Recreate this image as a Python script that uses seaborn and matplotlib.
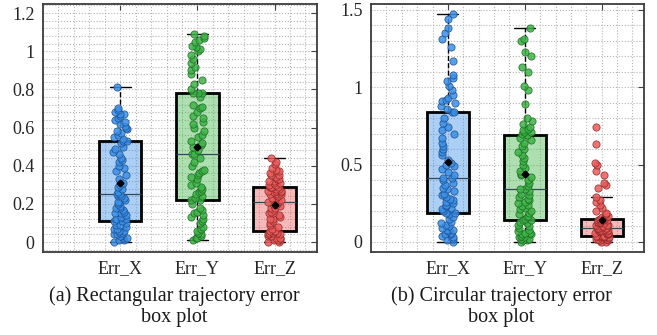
import numpy as np
import pandas as pd
import seaborn as sns

import matplotlib
matplotlib.use('Agg')
import matplotlib.pyplot as plt
from matplotlib.colors import to_rgba
from matplotlib.ticker import MultipleLocator, FuncFormatter

groups = ['Err_X', 'Err_Y', 'Err_Z']

# (a) rectangular trajectory errors
rect_x = [0.00, 0.01, 0.01, 0.02, 0.02, 0.03, 0.03, 0.04, 0.04, 0.05, 0.05, 0.06, 0.06, 0.07, 0.07, 0.08, 0.09, 0.09, 0.10, 0.11,
          0.11, 0.12, 0.12, 0.13, 0.14, 0.15, 0.15, 0.16, 0.17, 0.18, 0.18, 0.19, 0.20, 0.21, 0.21, 0.22, 0.23, 0.24, 0.24, 0.25,
          0.25, 0.26, 0.28, 0.29, 0.30, 0.31, 0.33, 0.35, 0.37, 0.39, 0.40, 0.42, 0.43, 0.44, 0.46, 0.47, 0.49, 0.50, 0.52, 0.53,
          0.53, 0.54, 0.55, 0.56, 0.57, 0.58, 0.59, 0.60, 0.61, 0.62, 0.63, 0.64, 0.65, 0.66, 0.67, 0.67, 0.68, 0.69, 0.70, 0.81]
rect_y = [0.01, 0.02, 0.02, 0.03, 0.04, 0.05, 0.06, 0.07, 0.08, 0.10, 0.11, 0.12, 0.13, 0.14, 0.15, 0.16, 0.17, 0.18, 0.20, 0.22,
          0.22, 0.23, 0.24, 0.25, 0.26, 0.27, 0.28, 0.29, 0.30, 0.31, 0.33, 0.34, 0.35, 0.36, 0.37, 0.38, 0.40, 0.42, 0.44, 0.46,
          0.46, 0.48, 0.50, 0.51, 0.52, 0.53, 0.55, 0.56, 0.58, 0.60, 0.62, 0.63, 0.65, 0.66, 0.68, 0.70, 0.71, 0.72, 0.76, 0.78,
          0.78, 0.78, 0.80, 0.83, 0.85, 0.88, 0.90, 0.92, 0.94, 0.96, 0.98, 1.00, 1.01, 1.02, 1.03, 1.05, 1.06, 1.07, 1.08, 1.09]
rect_z = [0.00, 0.00, 0.01, 0.01, 0.01, 0.02, 0.02, 0.02, 0.03, 0.03, 0.03, 0.04, 0.04, 0.04, 0.05, 0.05, 0.05, 0.06, 0.06, 0.06,
          0.06, 0.07, 0.08, 0.09, 0.10, 0.11, 0.12, 0.12, 0.13, 0.14, 0.15, 0.15, 0.16, 0.17, 0.18, 0.18, 0.19, 0.20, 0.20, 0.21,
          0.21, 0.21, 0.22, 0.22, 0.23, 0.23, 0.24, 0.24, 0.25, 0.25, 0.25, 0.26, 0.26, 0.27, 0.27, 0.27, 0.28, 0.28, 0.29, 0.29,
          0.29, 0.29, 0.30, 0.30, 0.31, 0.31, 0.32, 0.32, 0.33, 0.33, 0.34, 0.35, 0.35, 0.36, 0.37, 0.38, 0.39, 0.41, 0.42, 0.44]

# (b) circular trajectory errors
circ_x = [0.00, 0.01, 0.02, 0.03, 0.04, 0.05, 0.05, 0.06, 0.07, 0.08, 0.08, 0.09, 0.10, 0.11, 0.12, 0.13, 0.15, 0.16, 0.18, 0.19,
          0.19, 0.20, 0.21, 0.22, 0.23, 0.24, 0.25, 0.26, 0.27, 0.28, 0.29, 0.30, 0.31, 0.33, 0.34, 0.35, 0.37, 0.38, 0.40, 0.41,
          0.41, 0.43, 0.45, 0.47, 0.49, 0.50, 0.51, 0.53, 0.56, 0.58, 0.60, 0.62, 0.64, 0.67, 0.70, 0.72, 0.74, 0.77, 0.80, 0.84,
          0.84, 0.86, 0.88, 0.90, 0.91, 0.92, 0.93, 0.95, 0.98, 1.01, 1.04, 1.06, 1.08, 1.17, 1.26, 1.31, 1.35, 1.38, 1.44, 1.47]
circ_y = [0.00, 0.01, 0.01, 0.02, 0.02, 0.03, 0.03, 0.04, 0.05, 0.05, 0.06, 0.06, 0.07, 0.08, 0.09, 0.10, 0.11, 0.12, 0.13, 0.14,
          0.14, 0.15, 0.16, 0.17, 0.18, 0.19, 0.20, 0.21, 0.22, 0.23, 0.24, 0.25, 0.26, 0.27, 0.28, 0.29, 0.30, 0.31, 0.33, 0.34,
          0.34, 0.36, 0.38, 0.40, 0.42, 0.43, 0.44, 0.46, 0.48, 0.50, 0.52, 0.54, 0.56, 0.58, 0.60, 0.62, 0.64, 0.66, 0.67, 0.69,
          0.69, 0.70, 0.71, 0.71, 0.72, 0.73, 0.74, 0.76, 0.78, 0.80, 0.89, 0.98, 1.01, 1.10, 1.13, 1.20, 1.23, 1.30, 1.31, 1.38]
circ_z = [0.00, 0.00, 0.01, 0.01, 0.01, 0.02, 0.02, 0.02, 0.02, 0.03, 0.03, 0.03, 0.03, 0.03, 0.04, 0.04, 0.04, 0.04, 0.04, 0.04,
          0.04, 0.05, 0.05, 0.05, 0.06, 0.06, 0.06, 0.07, 0.07, 0.07, 0.07, 0.08, 0.08, 0.08, 0.08, 0.09, 0.09, 0.09, 0.09, 0.09,
          0.09, 0.10, 0.10, 0.10, 0.11, 0.11, 0.11, 0.12, 0.12, 0.12, 0.13, 0.13, 0.13, 0.14, 0.14, 0.14, 0.14, 0.15, 0.15, 0.15,
          0.15, 0.16, 0.17, 0.18, 0.19, 0.20, 0.22, 0.24, 0.26, 0.27, 0.29, 0.35, 0.37, 0.38, 0.43, 0.46, 0.50, 0.51, 0.63, 0.74]

captions = ['(a) Rectangular trajectory error\nbox plot', '(b) Circular trajectory error\nbox plot']

point_colors = ['#3a8fe8', '#3db446', '#eb5a5a']
edge_colors = ['#1d4f8c', '#1e6a24', '#8e2a2a']


def draw_panel(ax, lists, ylim, major):
    df = pd.DataFrame({'group': np.repeat(groups, [len(v) for v in lists]),
                       'value': np.concatenate(lists)})

    sns.boxplot(data=df, x='group', y='value', hue='group',
                order=groups, hue_order=groups, palette=point_colors,
                saturation=1, width=0.55, whis=1.5,
                showfliers=False, showmeans=True,
                linecolor='black', linewidth=1,
                boxprops=dict(linewidth=2),
                whiskerprops=dict(linestyle='--'),
                medianprops=dict(color='#34465a', linewidth=0.9),
                meanprops=dict(marker='D', markerfacecolor='black',
                               markeredgecolor='black', markersize=3.5, zorder=4),
                legend=False, ax=ax)
    for patch, c in zip(ax.patches, point_colors):
        patch.set_facecolor(to_rgba(c, 0.42))

    # jittered points on top of the boxes
    for g, c, ec in zip(groups, point_colors, edge_colors):
        sns.stripplot(data=df[df['group'] == g], x='group', y='value',
                      order=groups, color=c, edgecolor=ec, linewidth=0.6,
                      jitter=0.09, size=5.2, alpha=0.85, zorder=3, ax=ax)

    ax.set_xlim(-1, 2.55)
    ax.set_ylim(*ylim)
    ax.yaxis.set_major_locator(MultipleLocator(major))
    ax.yaxis.set_minor_locator(MultipleLocator(major / 5))
    ax.xaxis.set_minor_locator(MultipleLocator(0.2))
    ax.yaxis.set_major_formatter(FuncFormatter(lambda v, p: '%g' % round(v, 3)))

    ax.grid(True, which='both', linestyle=':', color='#b4b4b4', linewidth=0.8)
    ax.set_axisbelow(True)
    ax.tick_params(which='major', direction='in', length=4, top=True, right=True,
                   labelsize=13, color='#404040', labelcolor='#262626', pad=6)
    ax.tick_params(which='minor', length=0)
    for s in ax.spines.values():
        s.set_color('#3c3c3c')
        s.set_linewidth(1.3)
    ax.set_xlabel('')
    ax.set_ylabel('')


sns.set_style('white')
plt.rcParams['font.family'] = ['Liberation Serif', 'DejaVu Serif']

np.random.seed(7)
fig = plt.figure(figsize=(6.57, 3.35), dpi=100)
ax1 = fig.add_axes([0.0655, 0.2478, 0.417, 0.7388])
ax2 = fig.add_axes([0.5647, 0.2478, 0.4155, 0.7388])

draw_panel(ax1, [rect_x, rect_y, rect_z], (-0.052, 1.245), 0.2)
draw_panel(ax2, [circ_x, circ_y, circ_z], (-0.065, 1.534), 0.5)

fig.text(0.265, 0.084, captions[0], ha='center', va='center', fontsize=14.5,
         linespacing=1.15, color='#1a1a1a')
fig.text(0.7626, 0.084, captions[1], ha='center', va='center', fontsize=14.5,
         linespacing=1.15, color='#1a1a1a')

fig.savefig('out.png', dpi=100)
